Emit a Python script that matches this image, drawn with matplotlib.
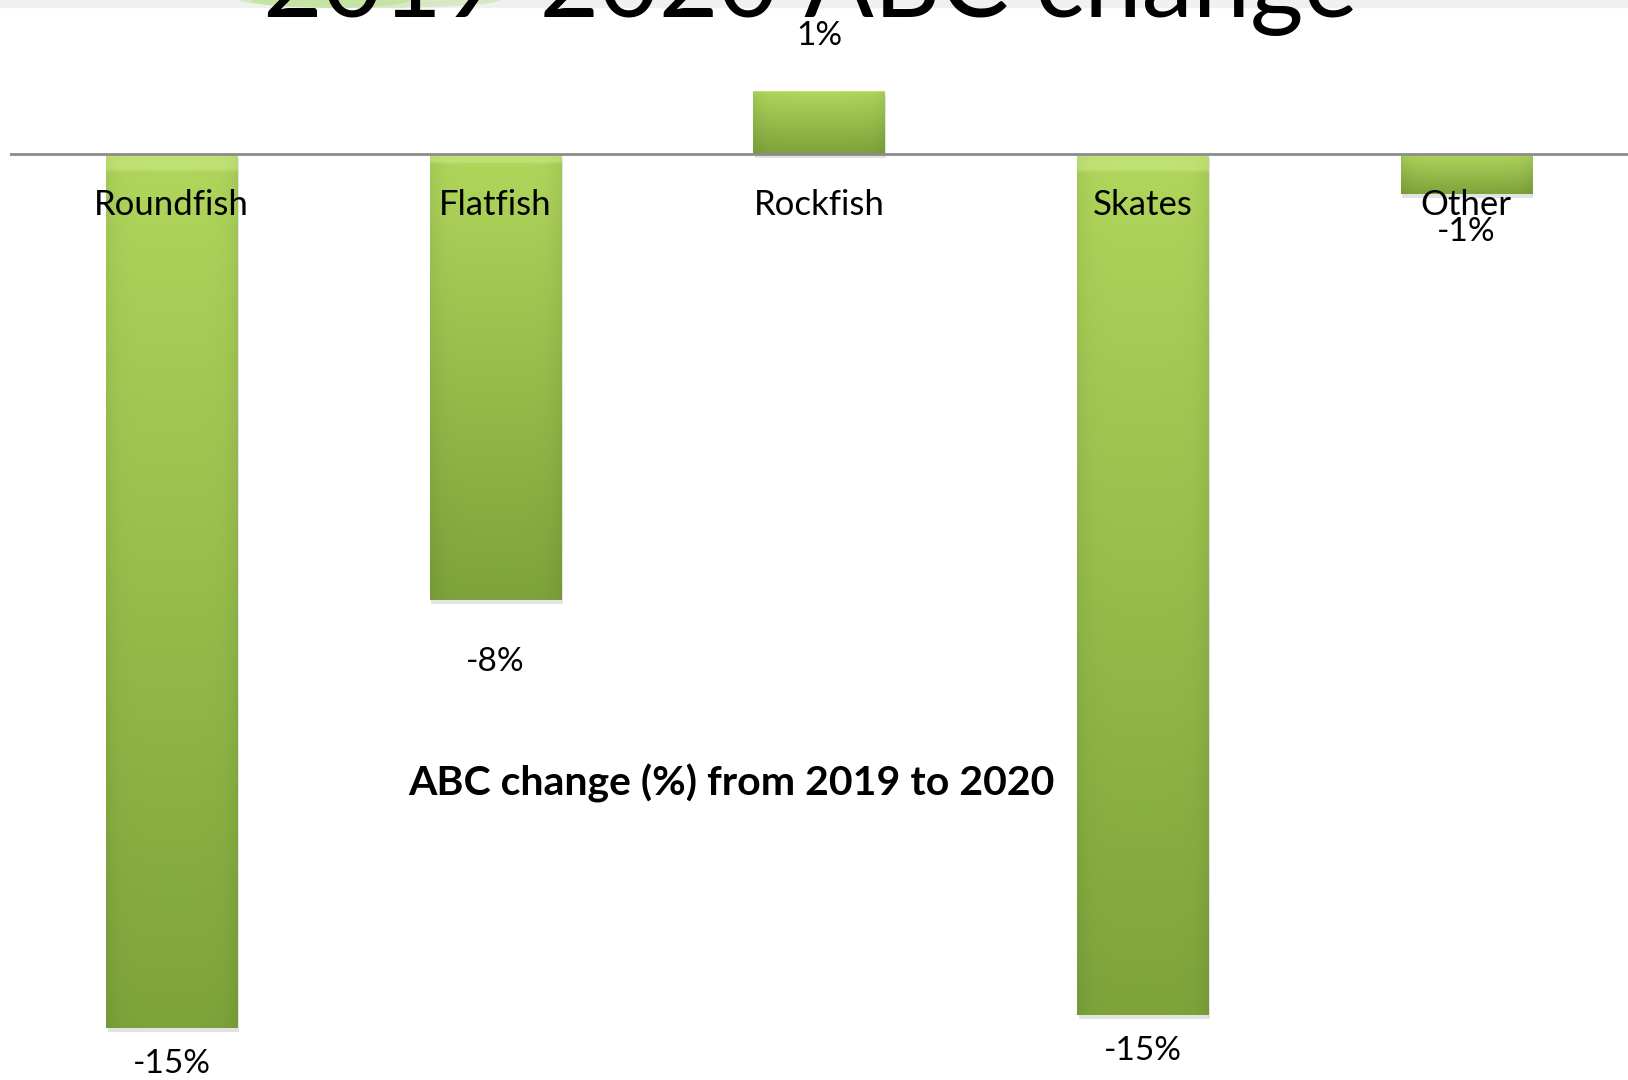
import numpy as np
import matplotlib
matplotlib.use("Agg")
import matplotlib.pyplot as plt
from matplotlib.patches import Rectangle, Ellipse

# Cambio de ABC por grupo de especies (%)
grupos = ["Roundfish", "Flatfish", "Rockfish", "Skates", "Other"]
cambio = [-15.0, -7.65, 1.08, -14.77, -0.69]

titulo = "2019-2020 ABC change"
subtitulo = "ABC change (%) from 2019 to 2020"

# separación (en puntos) entre el extremo de cada barra y su etiqueta
separacion = [26, 45, 40, 26, 27]

plt.rcParams['font.family'] = ['Lato', 'DejaVu Sans']

fig = plt.figure(figsize=(16.28, 10.8), dpi=100)
fig.patch.set_facecolor("white")

# franja superior de la diapositiva con un brillo verde
fig.patches.append(Rectangle((0, 1 - 7 / 1080), 1, 7 / 1080, transform=fig.transFigure,
                             color="#f0f0f0", zorder=0))
for cx, w, a in [(370, 260, 0.45), (330, 160, 0.6)]:
    fig.patches.append(Ellipse((cx / 1628, 1.0), w / 1628, 16 / 1080, transform=fig.transFigure,
                               color="#b9e08f", alpha=a, lw=0, zorder=0))

ax = fig.add_axes([10 / 1628, 0, 1618 / 1628, 1])
ax.set_xlim(-0.5, 4.5)
ax.set_ylim(-15.89, 2.643)
ax.axis("off")

x = np.arange(len(grupos))
ancho = 0.405
barras = ax.bar(x, cambio, width=ancho, color="none", zorder=2)

# degradado vertical (claro arriba, oscuro abajo) con bordes laterales algo más oscuros
claro = np.array([0.69, 0.84, 0.36])
oscuro = np.array([0.49, 0.64, 0.23])
for xi, v, b in zip(x, cambio, barras):
    top, bot = max(v, 0), min(v, 0)
    n = 200
    t = np.linspace(0, 1, n)[:, None, None]
    img = claro * (1 - t) + oscuro * t
    h = np.linspace(-1, 1, 60)[None, :, None]
    img = img * (1 - 0.06 * np.abs(h) ** 6)
    img[:4] = img[:4] * 0.6 + 0.4 * np.array([0.85, 0.95, 0.6])
    img = np.broadcast_to(img, (n, 60, 3)).clip(0, 1)
    # sombra suave bajo la barra
    ax.add_patch(Rectangle((xi - ancho / 2 + 0.005, bot - 0.07), ancho, top - bot,
                           color="#b0b0b0", alpha=0.35, zorder=1, lw=0))
    im = ax.imshow(img, extent=(xi - ancho / 2, xi + ancho / 2, bot, top),
                   aspect="auto", zorder=2, interpolation="bilinear")
    im.set_clip_path(b)

ax.set_xlim(-0.5, 4.5)
ax.set_ylim(-15.89, 2.643)

# línea base
ax.axhline(0, color="#8c8c8c", lw=2, zorder=3)

# etiquetas de categoría y de valor
for xi, g, v, s in zip(x, grupos, cambio, separacion):
    ax.annotate(g, (xi, 0), xytext=(0, -37), textcoords="offset points",
                ha="center", va="center", fontsize=25, color="black", zorder=4)
    desp = s if v >= 0 else -s
    ax.annotate(f"{v:.0f}%", (xi, v), xytext=(0, desp), textcoords="offset points",
                ha="center", va="center", fontsize=24, zorder=4)

fig.text(731 / 1628, 1 - 783 / 1080, subtitulo, ha="center", va="center",
         fontsize=29.5, fontweight="bold")
fig.text(810 / 1628, 1 - 17 / 1080, titulo, ha="center", va="baseline",
         fontsize=74, color="black")

plt.savefig("out.png", dpi=100, facecolor="white")
